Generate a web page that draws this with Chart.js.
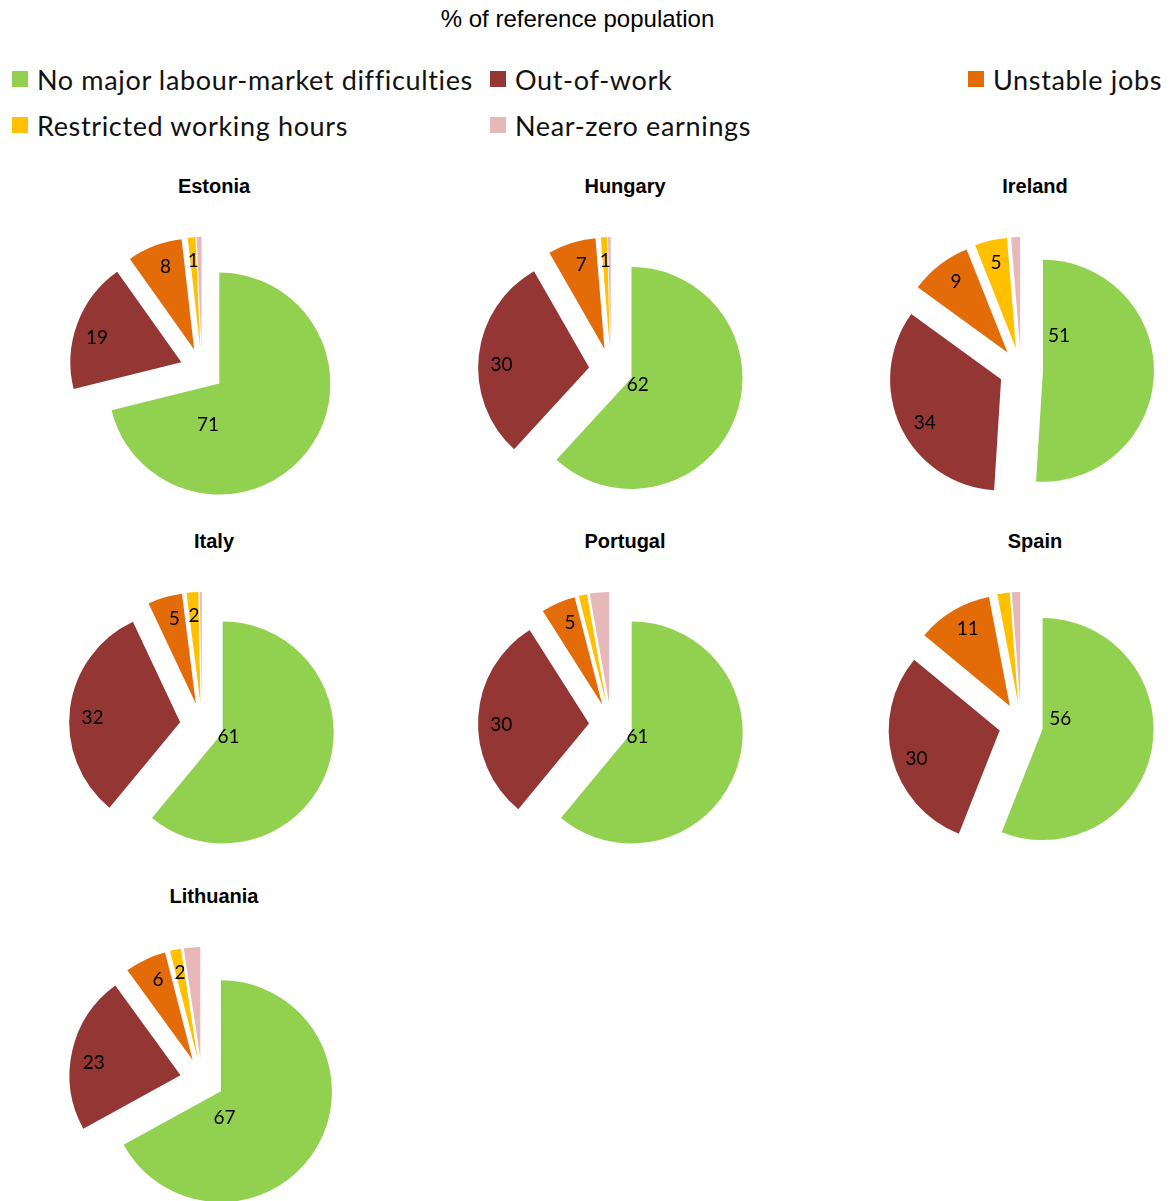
<!DOCTYPE html>
<html>
<head>
<meta charset="utf-8">
<script src="https://cdn.jsdelivr.net/npm/chart.js@4.4.0/dist/chart.umd.min.js"></script>
<style>
  html, body { margin: 0; padding: 0; background: #fff; overflow: hidden; }
  #page { position: relative; width: 1175px; height: 1201px; }
  #title { position: absolute; left: 0; top: 0; width: 1155px; line-height: 38px; text-align: center;
           font-family: "Liberation Sans", Arial, sans-serif; font-size: 24px; color: #000; }
  .leg { position: absolute; display: flex; align-items: center; height: 30px; letter-spacing: 0.65px;
         font-family: Lato, "Open Sans", sans-serif; font-size: 27px; color: #111; white-space: nowrap; }
  .leg span.box { width: 16px; height: 16px; margin-right: 9px; display: inline-block; }
  .country { position: absolute; width: 200px; text-align: center; line-height: 26px;
             font-family: "Liberation Sans", Arial, sans-serif; font-weight: bold; font-size: 20px; color: #000; }
  canvas { position: absolute; }
</style>
</head>
<body>
<div id="page">
  <div id="title">% of reference population</div>
</div>
<script>
// categories and colours
const categories = ['No major labour-market difficulties', 'Out-of-work', 'Unstable jobs',
                    'Restricted working hours', 'Near-zero earnings'];
const colors = ['#92D050', '#943634', '#E36C09', '#FFC000', '#E6B9B8'];

// one series per country (% of reference population)
const countries = ['Estonia', 'Hungary', 'Ireland', 'Italy', 'Portugal', 'Spain', 'Lithuania'];
const estonia   = [71, 19, 8, 1.1, 0.7];
const hungary   = [62, 30, 7, 0.9, 0.4];
const ireland   = [51, 34, 9, 4.7, 1.3];
const italy     = [61, 32, 5, 1.7, 0.3];
const portugal  = [61, 30, 5, 1.2, 2.8];
const spain     = [56, 30, 11, 1.8, 1.2];
const lithuania = [67, 23, 6, 1.6, 2.4];

// data labels as printed on the slices ('' = none)
const estoniaLabels   = ['71', '19', '8', '1', ''];
const hungaryLabels   = ['62', '30', '7', '1', ''];
const irelandLabels   = ['51', '34', '9', '5', ''];
const italyLabels     = ['61', '32', '5', '2', ''];
const portugalLabels  = ['61', '30', '5', '', ''];
const spainLabels     = ['56', '30', '11', '', ''];
const lithuaniaLabels = ['67', '23', '6', '2', ''];

const series = [estonia, hungary, ireland, italy, portugal, spain, lithuania];
const labelSets = [estoniaLabels, hungaryLabels, irelandLabels, italyLabels, portugalLabels, spainLabels, lithuaniaLabels];

const RADIUS = 111;  // pie radius px
const SHIFT = 22;    // explosion distance px
const labelTurn = [0, -3.5, 1.5, 0, 0]; // small angle nudge per category (deg)

const page = document.getElementById('page');

// legend
const legPos = [[12, 64], [490, 64], [968, 64], [12, 110], [490, 110]];
categories.forEach((c, i) => {
  const d = document.createElement('div');
  d.className = 'leg';
  d.style.left = legPos[i][0] + 'px';
  d.style.top = legPos[i][1] + 'px';
  d.innerHTML = '<span class="box" style="background:' + colors[i] + '"></span>' + c;
  page.appendChild(d);
});

// explode: move every slice's own centre out along its mid angle
const explode = {
  id: 'explode',
  afterUpdate(chart) {
    const a = chart.chartArea;
    const cx = (a.left + a.right) / 2, cy = (a.top + a.bottom) / 2;
    chart.getDatasetMeta(0).data.forEach(arc => {
      const mid = (arc.startAngle + arc.endAngle) / 2;
      arc.x = cx + Math.cos(mid) * SHIFT;
      arc.y = cy + Math.sin(mid) * SHIFT;
    });
  }
};

const sliceLabels = {
  id: 'sliceLabels',
  afterDatasetsDraw(chart, args, opts) {
    const ctx = chart.ctx;
    const texts = opts.texts || [];
    const a = chart.chartArea;
    const cx = (a.left + a.right) / 2, cy = (a.top + a.bottom) / 2;
    ctx.save();
    ctx.font = '19px Lato, "Open Sans", sans-serif';
    ctx.fillStyle = '#000';
    ctx.textAlign = 'center';
    ctx.textBaseline = 'middle';
    chart.getDatasetMeta(0).data.forEach((arc, i) => {
      if (!texts[i]) return;
      const mid = (arc.startAngle + arc.endAngle) / 2;
      let ang = mid + labelTurn[i] * Math.PI / 180, dist = SHIFT + 0.79 * RADIUS, dx = 0, dy = 0;
      if (i === 0) {
        // the big slice's label sits near the middle of the pie
        const d = mid * 180 / Math.PI + 90 - 110;
        ang = (110 + 3.4 * d - 90) * Math.PI / 180;
        dist = 30 + 1.3 * Math.abs(d);
        dx = -2; dy = 2;
      }
      ctx.fillText(texts[i], cx + Math.cos(ang) * dist + dx, cy + Math.sin(ang) * dist + dy);
    });
    ctx.restore();
  }
};

const colX = [202, 611, 1021];
const rowY = [370, 725, 1080];
const titleX = [214, 625, 1035];
const SIZE = 300;

countries.forEach((name, k) => {
  const cx = colX[k % 3], cy = rowY[Math.floor(k / 3)];

  const t = document.createElement('div');
  t.className = 'country';
  t.textContent = name;
  t.style.left = (titleX[k % 3] - 100) + 'px';
  t.style.top = (cy - 184 - 13) + 'px';
  page.appendChild(t);

  const cv = document.createElement('canvas');
  cv.width = SIZE; cv.height = SIZE;
  cv.style.left = (cx - SIZE / 2) + 'px';
  cv.style.top = (cy - SIZE / 2) + 'px';
  page.appendChild(cv);

  new Chart(cv, {
    type: 'pie',
    data: {
      labels: categories,
      datasets: [{
        data: series[k],
        backgroundColor: colors,
        borderWidth: 0
      }]
    },
    options: {
      responsive: false,
      animation: false,
      events: [],
      radius: RADIUS,
      plugins: {
        legend: { display: false },
        tooltip: { enabled: false },
        sliceLabels: { texts: labelSets[k] }
      }
    },
    plugins: [explode, sliceLabels]
  });
});
</script>
</body>
</html>
